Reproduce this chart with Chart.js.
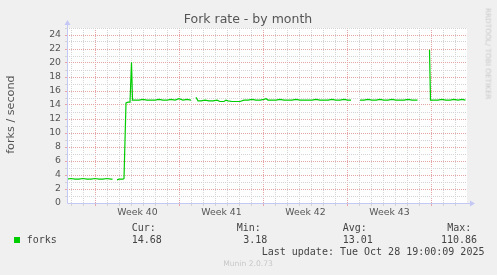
<!DOCTYPE html>
<html><head><meta charset="utf-8">
<script src="https://cdn.jsdelivr.net/npm/chart.js@4"></script>
<style>
html,body{margin:0;padding:0;background:#f0f0f0;}
#wrap{position:relative;width:497px;height:275px;overflow:hidden;background:#f0f0f0;}
#c{position:absolute;left:0;top:0;}
.t{position:absolute;white-space:pre;line-height:1;}
.s{font-family:"DejaVu Sans",sans-serif;}
.m{font-family:"DejaVu Sans Mono",monospace;}
</style></head><body>
<div id="wrap"><canvas id="c" width="497" height="275"></canvas></div>
<script>
// Time axis: hours since left edge of the graph (33.33 days shown)
const hours = [
  0,8,16,24,32,40,48,56,64,72,80,88,91, 95,
  100,104,108,112,114,118,122,126,129,131,
  136,144,152,160,168,176,184,192,200,208,216,224,232,240,248, 253,
  258,262,268,276,284,292,300,306,314,318,322,330,338,346,
  354,362,370,378,386,394,398,402,410,418,426,434,442,450,458,466,474,482,490,498,506,514,522,530,538,546,554,562,568, 576,
  586,594,602,610,618,626,634,642,650,658,666,674,682,690,698,701, 712,
  725,727,734,742,750,758,766,774,782,790,797
];
const forks = [
  3.4,3.5,3.4,3.4,3.5,3.4,3.4,3.5,3.4,3.4,3.5,3.4,3.4, null,
  3.3,3.4,3.4,3.4,3.5,14.3,14.4,14.4,20.1,14.7,
  14.7,14.7,14.8,14.7,14.7,14.7,14.8,14.7,14.7,14.8,14.7,14.9,14.7,14.8,14.7, null,
  15.1,14.6,14.6,14.7,14.6,14.6,14.7,14.5,14.5,14.7,14.6,14.5,14.5,14.5,
  14.7,14.7,14.8,14.7,14.7,14.8,14.9,14.7,14.7,14.7,14.8,14.7,14.7,14.7,14.8,14.7,14.7,14.7,14.7,14.8,14.7,14.7,14.7,14.8,14.7,14.7,14.8,14.7,14.7, null,
  14.7,14.7,14.8,14.7,14.7,14.8,14.7,14.7,14.8,14.7,14.7,14.7,14.8,14.7,14.7,14.7, null,
  21.9,14.7,14.7,14.7,14.8,14.7,14.7,14.8,14.7,14.8,14.7
];
const weekLabels = ['Week 40','Week 41','Week 42','Week 43'];
const weekLabelHours = [141,309,477,645];
const weekStartHours = [57,225,393,561,729];
const yMax = 25;

const legendStats = {cur:'14.68', min:'3.18', avg:'13.01', max:'110.86'};

const GRAY = '#d4d4d4', RED = '#e6a4a4', AXIS = '#c4c8f4';

const dayTicks = [];
for (let h = weekStartHours[0] % 24; h < 800; h += 24) dayTicks.push(h);

const bgPlugin = {
  id: 'bg',
  beforeDraw(chart) {
    const {ctx, chartArea: a} = chart;
    ctx.save();
    ctx.fillStyle = '#ffffff';
    ctx.fillRect(a.left, a.top, a.right - a.left, a.bottom - a.top);
    ctx.restore();
  },
  afterDraw(chart) {
    const {ctx, chartArea: a} = chart;
    ctx.save();
    ctx.strokeStyle = AXIS; ctx.fillStyle = AXIS; ctx.lineWidth = 1;
    const x0 = Math.round(a.left) + 0.5, y0 = Math.round(a.bottom) + 0.5;
    ctx.beginPath(); ctx.moveTo(x0, y0); ctx.lineTo(x0, a.top - 4); ctx.stroke();
    ctx.beginPath(); ctx.moveTo(x0 - 3, a.top - 3); ctx.lineTo(x0 + 3, a.top - 3); ctx.lineTo(x0, a.top - 8); ctx.closePath(); ctx.fill();
    ctx.beginPath(); ctx.moveTo(x0, y0); ctx.lineTo(a.right + 4, y0); ctx.stroke();
    ctx.beginPath(); ctx.moveTo(a.right + 3, y0 - 3); ctx.lineTo(a.right + 3, y0 + 3); ctx.lineTo(a.right + 8, y0); ctx.closePath(); ctx.fill();
    ctx.restore();
  }
};

new Chart(document.getElementById('c'), {
  type: 'line',
  data: {
    datasets: [{
      label: 'forks',
      data: hours.map((h, i) => ({x: h, y: forks[i]})),
      borderColor: '#00cc00',
      borderWidth: 1.2,
      pointRadius: 0,
      spanGaps: false,
      tension: 0,
      fill: false
    }]
  },
  options: {
    responsive: false,
    devicePixelRatio: 1,
    animation: false,
    layout: {padding: {top: 28, right: 30, left: 0, bottom: 0}},
    plugins: {legend: {display: false}, title: {display: false}, tooltip: {enabled: false}},
    scales: {
      x: {
        type: 'linear', min: 0, max: 800,
        afterFit(s) { s.height = 72; },
        afterBuildTicks(s) {
          s.ticks = dayTicks.concat(weekLabelHours).sort((a, b) => a - b).map(v => ({value: v}));
        },
        ticks: {
          autoSkip: false, maxRotation: 0, padding: 1,
          color: '#555', font: {family: 'DejaVu Sans', size: 9.33},
          callback(v) { const i = weekLabelHours.indexOf(v); return i >= 0 ? weekLabels[i] : ''; }
        },
        grid: {
          drawTicks: true, tickLength: 3, lineWidth: 1,
          color(c) {
            const v = c.tick && c.tick.value;
            if (weekLabelHours.includes(v)) return 'rgba(0,0,0,0)';
            return weekStartHours.includes(v) ? RED : GRAY;
          }
        },
        border: {display: false, dash: [1, 1]}
      },
      y: {
        min: 0, max: yMax,
        afterFit(s) { s.width = 67; },
        ticks: {
          stepSize: 1, autoSkip: false, padding: 4,
          color: '#555', font: {family: 'DejaVu Sans', size: 9.33},
          callback(v) { return v % 2 === 0 ? String(v) : ''; }
        },
        grid: {
          drawTicks: true, tickLength: 2, lineWidth: 1,
          color(c) {
            const v = c.tick && c.tick.value;
            if (v === 0) return 'rgba(0,0,0,0)';
            return v % 2 === 0 ? RED : GRAY;
          }
        },
        border: {display: false, dash: [1, 1]}
      }
    }
  },
  plugins: [bgPlugin]
});

// Text overlays (real DOM text)
const wrap = document.getElementById('wrap');
function txt(text, cls, x, baseline, size, color, align) {
  const d = document.createElement('div');
  d.className = 't ' + cls;
  d.textContent = text;
  d.style.fontSize = size + 'px';
  d.style.color = color;
  d.style.top = (baseline - 0.846 * size) + 'px';
  if (align === 'center') { d.style.left = (x - 200) + 'px'; d.style.width = '400px'; d.style.textAlign = 'center'; }
  else if (align === 'right') { d.style.right = (497 - x) + 'px'; }
  else { d.style.left = x + 'px'; }
  wrap.appendChild(d);
  return d;
}
txt('Fork rate - by month', 's', 248, 24, 12.5, '#555', 'center');

const yt = document.createElement('div');
yt.className = 't s'; yt.textContent = 'forks / second';
Object.assign(yt.style, {fontSize: '11.2px', color: '#555', width: '200px', textAlign: 'center',
  left: (11.1 - 100) + 'px', top: (114.5 - 5.6) + 'px', height: '11.2px', transform: 'rotate(-90deg)'});
wrap.appendChild(yt);

const wm = document.createElement('div');
wm.className = 't s'; wm.textContent = 'RRDTOOL/ TOBI OETIKER';
Object.assign(wm.style, {fontSize: '7.3px', color: '#c8c8c8', width: '200px', textAlign: 'center',
  left: (487.5 - 100) + 'px', top: (54 - 3.65) + 'px', height: '7.3px', transform: 'rotate(90deg)'});
wrap.appendChild(wm);

const sq = document.createElement('div');
Object.assign(sq.style, {position: 'absolute', left: '14px', top: '237px', width: '6px', height: '6px', background: '#00cc00'});
wrap.appendChild(sq);
const LC = '#444';
txt('forks', 'm', 26.7, 243, 10, LC);
txt('Cur:', 'm', 131.7, 231, 10, LC);
txt(legendStats.cur, 'm', 131.7, 243, 10, LC);
txt('Min:', 'm', 236.7, 231, 10, LC);
txt(legendStats.min, 'm', 243.3, 243, 10, LC);
txt('Avg:', 'm', 342.7, 231, 10, LC);
txt(legendStats.avg, 'm', 342.7, 243, 10, LC);
txt('Max:', 'm', 447.3, 231, 10, LC);
txt(legendStats.max, 'm', 441, 243, 10, LC);
txt('Last update: Tue Oct 28 19:00:09 2025', 'm', 261.7, 255, 10, LC);
txt('Munin 2.0.73', 's', 248, 266.7, 7.6, '#c8c8c8', 'center');
</script>
</body></html>
